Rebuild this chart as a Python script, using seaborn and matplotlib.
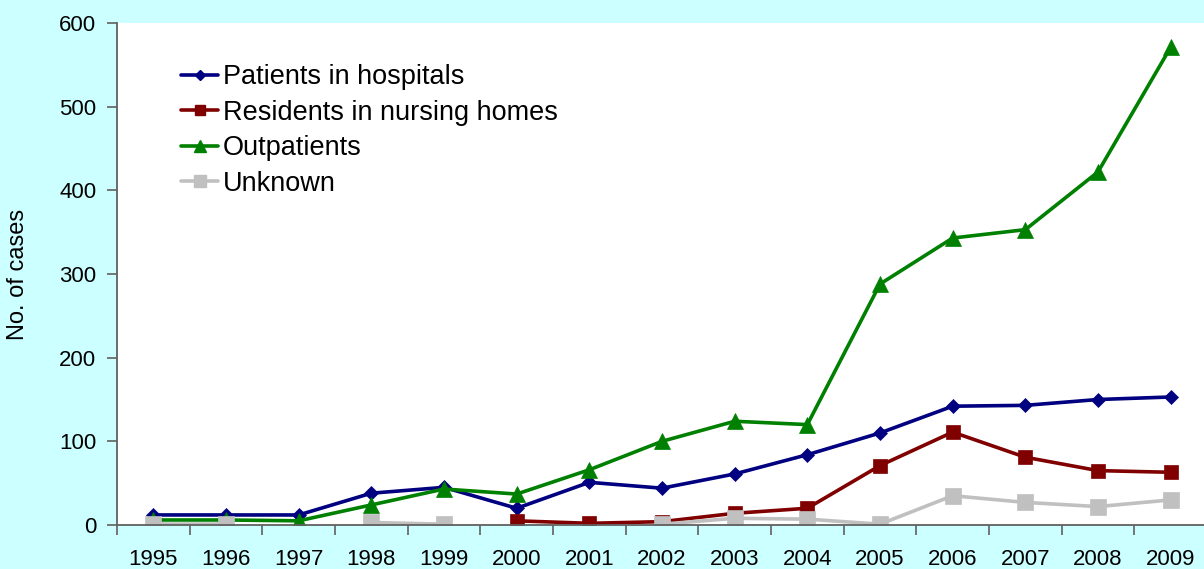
import numpy as np
import pandas as pd
import matplotlib
matplotlib.use("Agg")
import matplotlib.pyplot as plt
import seaborn as sns
from matplotlib.lines import Line2D

years = [1995, 1996, 1997, 1998, 1999, 2000, 2001, 2002, 2003, 2004,
         2005, 2006, 2007, 2008, 2009]
nan = np.nan
hospitals = [12, 12, 12, 38, 45, 20, 51, 44, 61, 84, 110, 142, 143, 150, 153]
nursing_homes = [nan, nan, nan, nan, nan, 5, 2, 4, 14, 20, 71, 111, 81, 65, 63]
outpatients = [6, 6, 5, 24, 43, 37, 66, 100, 124, 120, 288, 343, 353, 422, 571]
unknown = [1, 1, nan, 3, 1, nan, nan, 1, 8, 7, 1, 35, 27, 22, 30]

series = [
    ("Patients in hospitals", hospitals, "#000080", "D", 7),
    ("Residents in nursing homes", nursing_homes, "#800000", "s", 10),
    ("Outpatients", outpatients, "#008000", "^", 11),
    ("Unknown", unknown, "#C0C0C0", "s", 11),
]

sns.set_theme(style="white")
plt.rcParams["font.family"] = ["Liberation Sans", "DejaVu Sans"]
plt.rcParams["text.color"] = "black"
plt.rcParams["xtick.color"] = "black"
plt.rcParams["ytick.color"] = "black"
plt.rcParams["axes.labelcolor"] = "black"

fig = plt.figure(figsize=(12.04, 5.69), dpi=100)
fig.patch.set_facecolor("#CCFFFF")
ax = fig.add_axes([117 / 1204, 44 / 569, 1090 / 1204, 502 / 569])
ax.set_facecolor("white")

pos = np.arange(len(years))
handles = []
for name, vals, color, marker, ms in series:
    df = pd.DataFrame({"pos": pos, "cases": vals})
    # split into contiguous runs so gaps in the data stay unconnected
    df["seg"] = df["cases"].isna().cumsum()
    df = df.dropna()
    for _, seg in df.groupby("seg"):
        sns.lineplot(data=seg, x="pos", y="cases", ax=ax, color=color,
                     linewidth=2.6, marker=marker, markersize=ms,
                     markeredgecolor=color, markeredgewidth=0.5,
                     estimator=None, sort=False)
    handles.append(Line2D([], [], color=color, linewidth=2.6, marker=marker,
                          markersize=ms * 0.75, markeredgecolor=color,
                          label=name))

ax.set_xlim(-0.5, len(years) - 0.5)
ax.set_ylim(0, 600)
ax.set_yticks(range(0, 601, 100))
ax.set_xticks(pos)
ax.set_xticklabels([str(y) for y in years])
ax.set_xticks(np.arange(-0.5, len(years), 1.0), minor=True)
ax.tick_params(axis="x", which="major", length=0, labelsize=16, pad=17,
               labelcolor="black")
ax.tick_params(axis="x", which="minor", length=7, width=1.2, color="#606060",
               direction="out", bottom=True)
ax.tick_params(axis="y", length=7, width=1.2, color="#606060", labelsize=16,
               labelcolor="black", direction="out", left=True, pad=8)
for side in ("top", "right"):
    ax.spines[side].set_visible(False)
for side in ("left", "bottom"):
    ax.spines[side].set_color("#606060")
    ax.spines[side].set_linewidth(1.3)

ax.set_xlabel("")
ax.set_ylabel("No. of cases", fontsize=17, color="black")
ax.yaxis.set_label_coords(-88 / 1090, 0.5)

ax.legend(handles=handles, loc="upper left", bbox_to_anchor=(0.049, 0.939),
          frameon=False, fontsize=19.5, handlelength=1.35, handletextpad=0.2,
          labelspacing=0.35, borderaxespad=0)

fig.savefig("out.png", dpi=100, facecolor=fig.get_facecolor())
